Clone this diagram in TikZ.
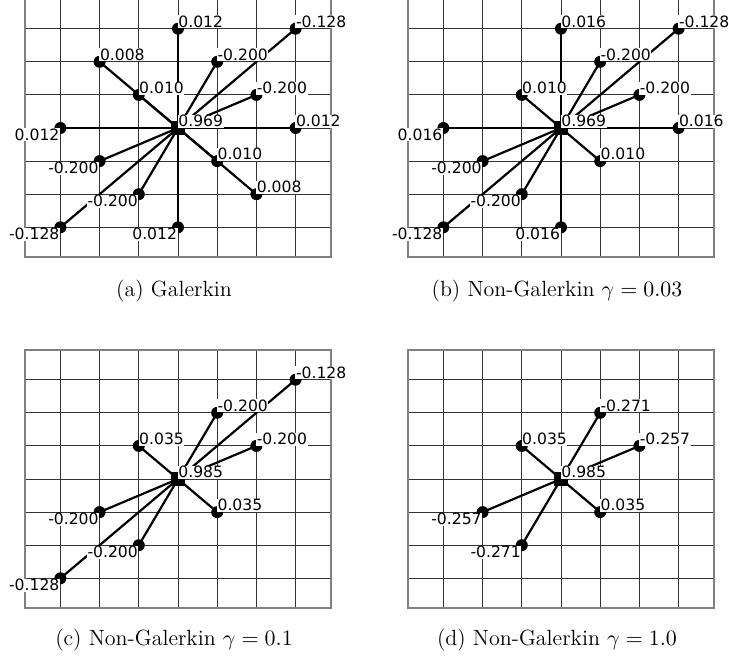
\documentclass[tikz,border=0pt]{standalone}
\usepackage{fontspec}
\newfontfamily\labfont{DejaVu Sans}
\tikzset{
  gridline/.style={black!80, line width=0.5pt},
  frameline/.style={black!50, line width=0.7pt},
  spoke/.style={line width=1.1pt},
  dot/.style={circle, fill, inner sep=0pt, minimum size=6pt},
  centre/.style={rectangle, fill, inner sep=0pt, minimum size=7pt},
  rlab/.style={anchor=south west, fill=white, inner sep=0.3pt, xshift=-0.3pt, font=\labfont\fontsize{7.8}{9}\selectfont},
  llab/.style={rlab, anchor=north east, xshift=0.3pt},
  caption/.style={anchor=base, inner sep=0pt, font=\fontsize{11}{13}\selectfont},
}
% grid of one stencil, in cell units, centre at the origin
\newcommand{\stencilgrid}{
  \foreach \i in {-3,...,3} {
    \draw[gridline] (\i,-3.9) -- (\i,3.9);
    \draw[gridline] (-3.9,\i) -- (3.9,\i);
  }
  \draw[frameline] (-3.9,-3.9) rectangle (3.9,3.9);
}
\begin{document}
\begin{tikzpicture}[x=0.5pt, y=-0.5pt]
  \useasboundingbox (0,0) rectangle (729,660);

  % (a) Galerkin
  \begin{scope}[shift={(178,128)}, x=19.6pt, y=16.55pt]
    \stencilgrid
    \coordinate (a0) at (0,0);
    \coordinate (a1) at (0,3);
    \coordinate (a2) at (3,3);
    \coordinate (a3) at (-2,2);
    \coordinate (a4) at (1,2);
    \coordinate (a5) at (-1,1);
    \coordinate (a6) at (2,1);
    \coordinate (a7) at (-3,0);
    \coordinate (a8) at (3,0);
    \coordinate (a9) at (-2,-1);
    \coordinate (a10) at (1,-1);
    \coordinate (a11) at (-1,-2);
    \coordinate (a12) at (2,-2);
    \coordinate (a13) at (-3,-3);
    \coordinate (a14) at (0,-3);
    \foreach \i in {1,...,14} \draw[spoke] (a0) -- (a\i);
    \foreach \i in {1,...,14} \node[dot] (ad\i) at (a\i) {};
    \node[centre] (ac) at (a0) {};
    \node[rlab] (al0) at (a0) {0.969};
    \node[rlab] (al1) at (a1) {0.012};
    \node[rlab] (al2) at (a2) {-0.128};
    \node[rlab] (al3) at (a3) {0.008};
    \node[rlab] (al4) at (a4) {-0.200};
    \node[rlab] (al5) at (a5) {0.010};
    \node[rlab] (al6) at (a6) {-0.200};
    \node[llab] (al7) at (a7) {0.012};
    \node[rlab] (al8) at (a8) {0.012};
    \node[llab] (al9) at (a9) {-0.200};
    \node[rlab] (al10) at (a10) {0.010};
    \node[llab] (al11) at (a11) {-0.200};
    \node[rlab] (al12) at (a12) {0.008};
    \node[llab] (al13) at (a13) {-0.128};
    \node[llab] (al14) at (a14) {0.012};
  \end{scope}
  \node[caption] (capa) at (174,296) {(a) Galerkin};

  % (b) gamma = 0.03
  \begin{scope}[shift={(561,128)}, x=19.6pt, y=16.55pt]
    \stencilgrid
    \coordinate (b0) at (0,0);
    \coordinate (b1) at (0,3);
    \coordinate (b2) at (3,3);
    \coordinate (b3) at (1,2);
    \coordinate (b4) at (-1,1);
    \coordinate (b5) at (2,1);
    \coordinate (b6) at (-3,0);
    \coordinate (b7) at (3,0);
    \coordinate (b8) at (-2,-1);
    \coordinate (b9) at (1,-1);
    \coordinate (b10) at (-1,-2);
    \coordinate (b11) at (-3,-3);
    \coordinate (b12) at (0,-3);
    \foreach \i in {1,...,12} \draw[spoke] (b0) -- (b\i);
    \foreach \i in {1,...,12} \node[dot] (bd\i) at (b\i) {};
    \node[centre] (bc) at (b0) {};
    \node[rlab] (bl0) at (b0) {0.969};
    \node[rlab] (bl1) at (b1) {0.016};
    \node[rlab] (bl2) at (b2) {-0.128};
    \node[rlab] (bl3) at (b3) {-0.200};
    \node[rlab] (bl4) at (b4) {0.010};
    \node[rlab] (bl5) at (b5) {-0.200};
    \node[llab] (bl6) at (b6) {0.016};
    \node[rlab] (bl7) at (b7) {0.016};
    \node[llab] (bl8) at (b8) {-0.200};
    \node[rlab] (bl9) at (b9) {0.010};
    \node[llab] (bl10) at (b10) {-0.200};
    \node[llab] (bl11) at (b11) {-0.128};
    \node[llab] (bl12) at (b12) {0.016};
  \end{scope}
  \node[caption] (capb) at (557,296) {(b) Non-Galerkin $\gamma = 0.03$};

  % (c) gamma = 0.1
  \begin{scope}[shift={(178,479)}, x=19.6pt, y=16.55pt]
    \stencilgrid
    \coordinate (c0) at (0,0);
    \coordinate (c1) at (3,3);
    \coordinate (c2) at (1,2);
    \coordinate (c3) at (-1,1);
    \coordinate (c4) at (2,1);
    \coordinate (c5) at (-2,-1);
    \coordinate (c6) at (1,-1);
    \coordinate (c7) at (-1,-2);
    \coordinate (c8) at (-3,-3);
    \foreach \i in {1,...,8} \draw[spoke] (c0) -- (c\i);
    \foreach \i in {1,...,8} \node[dot] (cd\i) at (c\i) {};
    \node[centre] (cc) at (c0) {};
    \node[rlab] (cl0) at (c0) {0.985};
    \node[rlab] (cl1) at (c1) {-0.128};
    \node[rlab] (cl2) at (c2) {-0.200};
    \node[rlab] (cl3) at (c3) {0.035};
    \node[rlab] (cl4) at (c4) {-0.200};
    \node[llab] (cl5) at (c5) {-0.200};
    \node[rlab] (cl6) at (c6) {0.035};
    \node[llab] (cl7) at (c7) {-0.200};
    \node[llab] (cl8) at (c8) {-0.128};
  \end{scope}
  \node[caption] (capc) at (174,645) {(c) Non-Galerkin $\gamma = 0.1$};

  % (d) gamma = 1.0
  \begin{scope}[shift={(561,479)}, x=19.6pt, y=16.55pt]
    \stencilgrid
    \coordinate (d0) at (0,0);
    \coordinate (d1) at (1,2);
    \coordinate (d2) at (-1,1);
    \coordinate (d3) at (2,1);
    \coordinate (d4) at (-2,-1);
    \coordinate (d5) at (1,-1);
    \coordinate (d6) at (-1,-2);
    \foreach \i in {1,...,6} \draw[spoke] (d0) -- (d\i);
    \foreach \i in {1,...,6} \node[dot] (dd\i) at (d\i) {};
    \node[centre] (dc) at (d0) {};
    \node[rlab] (dl0) at (d0) {0.985};
    \node[rlab] (dl1) at (d1) {-0.271};
    \node[rlab] (dl2) at (d2) {0.035};
    \node[rlab] (dl3) at (d3) {-0.257};
    \node[llab] (dl4) at (d4) {-0.257};
    \node[rlab] (dl5) at (d5) {0.035};
    \node[llab] (dl6) at (d6) {-0.271};
  \end{scope}
  \node[caption] (capd) at (557,645) {(d) Non-Galerkin $\gamma = 1.0$};
\end{tikzpicture}
\end{document}
